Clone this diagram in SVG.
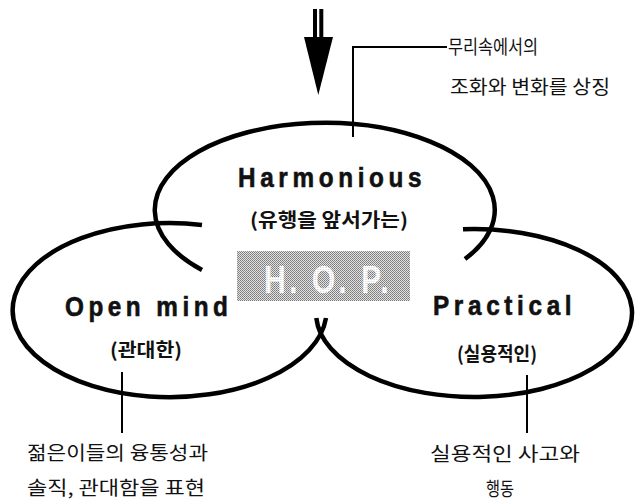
<svg xmlns="http://www.w3.org/2000/svg" width="642" height="500" viewBox="0 0 642 500">
  <defs>
    <!-- halftone screen for the H.O.P. plate -->
    <pattern id="screen" patternUnits="userSpaceOnUse" width="2" height="2">
      <rect width="2" height="2" fill="#e2e2e2"/>
      <rect x="0" y="0" width="1" height="1" fill="#7a7a7a"/>
      <rect x="1" y="1" width="1" height="1" fill="#8c8c8c"/>
    </pattern>
    <pattern id="screenLight" patternUnits="userSpaceOnUse" width="2" height="2">
      <rect width="2" height="2" fill="#ffffff"/>
      <rect x="0" y="0" width="1" height="1" fill="#d8d8d8"/>
    </pattern>
  </defs>
  <style>
    .ring { fill: none; stroke: #000; stroke-width: 4.5; stroke-linecap: butt; }
    .leader { fill: none; stroke: #000; stroke-width: 2; }
    .title { font-family: "Liberation Sans", "DejaVu Sans", sans-serif; font-weight: bold; font-size: 27px; fill: #111; stroke: #111; stroke-width: 0.6; }
    .sub { font-family: "Noto Sans CJK KR", "Noto Sans", sans-serif; font-weight: bold; font-size: 19px; fill: #111; }
    .note { font-family: "Noto Sans CJK KR", "Noto Sans", sans-serif; font-size: 19px; fill: #111; }
    .hop { font-family: "Liberation Sans", "DejaVu Sans", sans-serif; font-weight: bold; font-size: 38px; fill: url(#screenLight); }
  </style>

  <rect width="642" height="500" fill="#fff"/>

  <!-- downward arrow -->
  <g id="arrow">
    <rect x="313" y="9" width="4" height="30" fill="#000"/>
    <rect x="319.3" y="9" width="4" height="30" fill="#000"/>
    <polygon points="304,37 333,37 318.3,95" fill="#000"/>
  </g>

  <!-- interlocking rings and leader lines -->
  <g id="connectors">
    <path class="ring" d="M202,270 A170,87 0 1 1 465,259"/>
    <path class="ring" d="M202,225 A157,87 0 1 0 326,318"/>
    <path class="ring" d="M463,229.2 A158,84 0 1 1 316.3,318"/>
    <path class="leader" d="M447,47 H353 V137"/>
    <path class="leader" d="M122,372 V433"/>
    <path class="leader" d="M527,375 V433"/>
  </g>

  <!-- titles are set in a narrowed bold face, hence the horizontal scale -->
  <g id="harmonious">
    <text class="title" transform="translate(238,187) scale(0.9,1)" textLength="204" lengthAdjust="spacing">Harmonious</text>
    <text class="sub" x="250" y="227" textLength="158" lengthAdjust="spacingAndGlyphs">(유행을 앞서가는)</text>
  </g>

  <g id="hop">
    <rect x="237" y="251" width="173" height="50" fill="url(#screen)"/>
    <text class="hop" transform="translate(264,293) scale(0.8,1)" textLength="156" lengthAdjust="spacing">H. O. P.</text>
  </g>

  <g id="open-mind">
    <text class="title" transform="translate(65,316) scale(0.9,1)" textLength="181" lengthAdjust="spacing">Open mind</text>
    <text class="sub" x="110" y="357" textLength="72" lengthAdjust="spacingAndGlyphs">(관대한)</text>
  </g>

  <g id="practical">
    <text class="title" transform="translate(433,315) scale(0.9,1)" textLength="154" lengthAdjust="spacing">Practical</text>
    <text class="sub" x="457" y="361" textLength="80" lengthAdjust="spacingAndGlyphs">(실용적인)</text>
  </g>

  <g id="note-harmonious">
    <text class="note" x="448" y="54" textLength="90" lengthAdjust="spacingAndGlyphs">무리속에서의</text>
    <text class="note" x="450" y="94" textLength="160" lengthAdjust="spacingAndGlyphs">조화와 변화를 상징</text>
  </g>

  <g id="note-open-mind">
    <text class="note" x="27" y="460" textLength="181" lengthAdjust="spacingAndGlyphs">젊은이들의 융통성과</text>
    <text class="note" x="27" y="495" textLength="178" lengthAdjust="spacingAndGlyphs">솔직, 관대함을 표현</text>
  </g>

  <g id="note-practical">
    <text class="note" x="430" y="461" textLength="150" lengthAdjust="spacingAndGlyphs">실용적인 사고와</text>
    <text class="note" x="486" y="496" textLength="28" lengthAdjust="spacingAndGlyphs">행동</text>
  </g>
</svg>
